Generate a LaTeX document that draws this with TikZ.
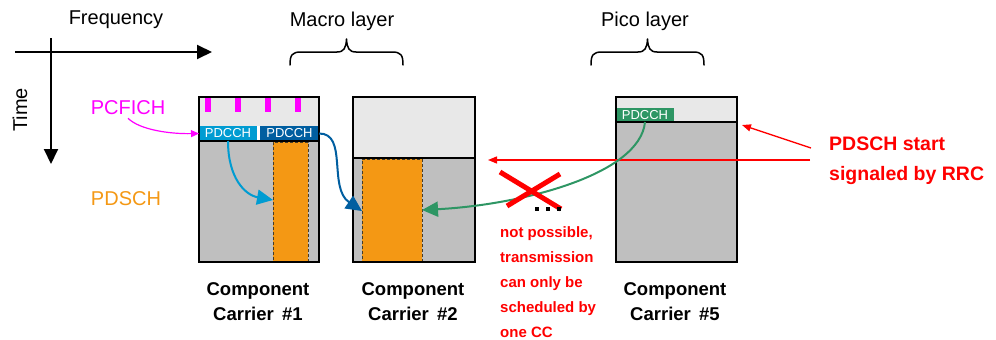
\documentclass[tikz,border=0pt]{standalone}
\usepackage{fontspec}
\setmainfont{Liberation Sans}
\usetikzlibrary{arrows.meta}
\definecolor{topgray}{RGB}{232,232,232}
\definecolor{bodygray}{RGB}{191,191,191}
\definecolor{pdschorange}{RGB}{244,152,20}
\definecolor{pcfichpink}{RGB}{255,0,255}
\definecolor{pdcchlight}{RGB}{0,156,210}
\definecolor{pdcchdark}{RGB}{0,94,160}
\definecolor{pdcchgreen}{RGB}{46,150,100}
\definecolor{noteRed}{RGB}{255,0,0}
\definecolor{dashedge}{RGB}{70,60,40}

\begin{document}
\begin{tikzpicture}[x=1pt,y=-1pt,
  area/.style={draw=none,inner sep=0pt,outer sep=0pt,anchor=north west},
  pdcchbox/.style={area,text=white,font=\fontsize{13}{13}\selectfont},
  pdsch/.style={area,fill=pdschorange,draw=dashedge,line width=0.9pt,dash pattern=on 3pt off 2pt},
  frame/.style={draw=black,line width=2pt},
  axis/.style={line width=2pt,-{Triangle[length=15pt,width=14pt]}},
  brace/.style={line width=1.5pt,line cap=round,line join=round},
  biglabel/.style={font=\fontsize{20}{24}\selectfont,inner sep=0pt},
  cclabel/.style={font=\fontsize{18.5}{25}\bfseries,align=center,inner sep=0pt,anchor=north},
  note/.style={text=noteRed,font=\fontsize{15}{25}\bfseries,align=left,inner sep=0pt,anchor=north west},
  fatarrow/.style={line width=2pt,-{Triangle[length=16pt,width=15pt]}},
  redarrow/.style={draw=noteRed,line width=1.4pt,-{Triangle[length=9pt,width=7pt]}}
]
\useasboundingbox (0,0) rectangle (996,340);

% time / frequency axes
\coordinate (fstart) at (15,52);
\coordinate (fend) at (212,52);
\coordinate (tstart) at (51,38);
\coordinate (tend) at (51,164);
\draw[axis] (fstart) -- (fend);
\draw[axis] (tstart) -- (tend);
\node[biglabel] (freq) at (116,20) {Frequency};
\node[biglabel,rotate=90] (time) at (20,110) {Time};

% channel names
\node[biglabel,text=pcfichpink] (pcfich) at (128,108) {PCFICH};
\node[biglabel,text=pdschorange] (pdschlbl) at (126,199) {PDSCH};

% layer labels with braces
\node[biglabel] (macro) at (342,21) {Macro layer};
\node[biglabel] (pico) at (645,21) {Pico layer};
\draw[brace] (290,65) .. controls (290,55) and (292,52) .. (301,52) -- (337,52)
  .. controls (344,52) and (346,48) .. (346.5,39)
  .. controls (347,48) and (349,52) .. (356,52) -- (392,52)
  .. controls (401,52) and (403,55) .. (403,65);
\draw[brace] (591,65) .. controls (591,55) and (593,52) .. (602,52) -- (638,52)
  .. controls (645,52) and (647,48) .. (647.5,39)
  .. controls (648,48) and (650,52) .. (657,52) -- (693,52)
  .. controls (702,52) and (704,55) .. (704,65);

% component carrier #1
\node[area,fill=topgray,minimum width=120pt,minimum height=29pt] (cc1top) at (199,97) {};
\node[area,fill=white,minimum width=120pt,minimum height=15pt] (cc1row) at (199,126) {};
\node[area,fill=bodygray,minimum width=120pt,minimum height=121pt] (cc1body) at (199,141) {};
\foreach \bx in {205,235,265,295}
  \fill[pcfichpink] (\bx,98) rectangle (\bx+5.5,112);
\node[pdcchbox,fill=pdcchlight,minimum width=58pt,minimum height=15pt] (pd1a) at (199,126) {PDCCH};
\node[pdcchbox,fill=pdcchdark,minimum width=59pt,minimum height=15pt] (pd1b) at (260,126) {PDCCH};
\node[pdsch,minimum width=35pt,minimum height=120pt] (or1) at (273,142) {};
\draw[frame] (cc1top.north west) rectangle (cc1body.south east);
\draw[frame] (cc1body.north west) -- (cc1body.north east);

% component carrier #2
\node[area,fill=topgray,minimum width=122pt,minimum height=61pt] (cc2top) at (353,97) {};
\node[area,fill=bodygray,minimum width=122pt,minimum height=104pt] (cc2body) at (353,158) {};
\node[pdsch,minimum width=60pt,minimum height=103pt] (or2) at (362,159) {};
\draw[frame] (cc2top.north west) rectangle (cc2body.south east);
\draw[frame] (cc2body.north west) -- (cc2body.north east);

% component carrier #5
\node[area,fill=topgray,minimum width=121pt,minimum height=25pt] (cc5top) at (616,97) {};
\node[area,fill=bodygray,minimum width=121pt,minimum height=140pt] (cc5body) at (616,122) {};
\node[pdcchbox,fill=pdcchgreen,minimum width=58pt,minimum height=14pt] (pd5) at (616,108) {PDCCH};
\draw[frame] (cc5top.north west) rectangle (cc5body.south east);
\draw[frame] (cc5body.north west) -- (cc5body.north east);

% carrier names
\node[cclabel] (lbl1) at (258,282) {Component\\Carrier\hspace{0.45em}\#1};
\node[cclabel] (lbl2) at (413,282) {Component\\Carrier\hspace{0.45em}\#2};
\node[cclabel] (lbl5) at (675,282) {Component\\Carrier\hspace{0.45em}\#5};

% RRC signalling note
\node[note,font=\fontsize{19.5}{29.5}\bfseries] (rrc) at (829,137) {PDSCH start\\signaled by RRC};
\coordinate (rrcA) at (811,148);
\coordinate (rrcB) at (810,160);
\coordinate (rrctip) at (742,125);
\coordinate (redtip) at (488,160);
\draw[redarrow] (rrcA) -- (rrctip);
\draw[redarrow] (rrcB) -- (redtip);

% PCFICH pointer
\draw[pcfichpink,line width=1.2pt,-{Triangle[length=8pt,width=7pt]}]
  (pcfich.south) ++(0,3) .. controls (140,130) and (170,134) .. (pd1a.west);

% scheduling arrows
\draw[pdcchlight,fatarrow] (pd1a.south) .. controls (228,178) and (245,195) .. (or1.west |- 0,200);
\draw[pdcchdark,fatarrow] (pd1b.east) .. controls (348,133) and (328,188) .. (or2.west |- 0,211);
\draw[pdcchgreen,fatarrow] (pd5.south) .. controls (640,175) and (520,205) .. (or2.east |- 0,210);

% cross-carrier scheduling not allowed
\draw[noteRed,line width=5pt] (500,172) -- (561,209);
\draw[noteRed,line width=5pt] (560,174) -- (507,206);
\foreach \dx in {537,548,559}
  \fill[black] (\dx-2.2,206.5) rectangle (\dx+2.2,211);
\node[note] (np) at (500,226) {not possible,\\transmission\\can only be\\scheduled by\\one CC};
\end{tikzpicture}
\end{document}
